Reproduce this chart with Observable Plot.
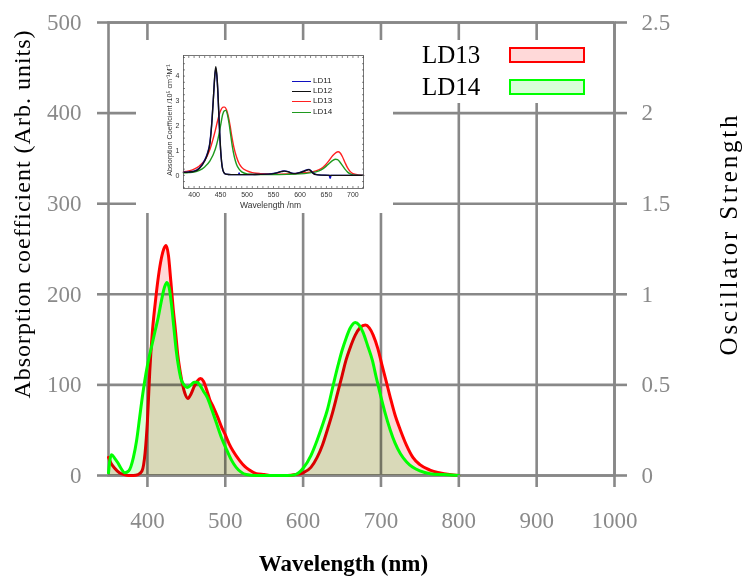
<!DOCTYPE html>
<html>
<head>
<meta charset="utf-8">
<script src="https://cdn.jsdelivr.net/npm/d3@7"></script>
<script src="https://cdn.jsdelivr.net/npm/@observablehq/plot@0.6"></script>
<style>
  body { margin: 0; background: #fff; }
  #wrap { position: relative; width: 743px; height: 577px; overflow: hidden; background: #fff; }
  #main { position: absolute; left: 0; top: 0; }
  #inset { position: absolute; left: 136px; top: 40px; width: 257px; height: 173px; background: #fff; }
  #legend { position: absolute; left: 380px; top: 40px; width: 225px; height: 63px; background: #fff;
            font-family: "Liberation Serif", "Times New Roman", serif; font-size: 25px; color: #000; }
  #legend .lab { position: absolute; left: 42px; line-height: 1; }
  #legend .sw { position: absolute; left: 129px; width: 72px; height: 12px; border-width: 2.5px; border-style: solid; }
  #insetLegend { position: absolute; left: 156px; top: 36px; font-family: "Liberation Sans", Arial, sans-serif; font-size: 8px; color: #222; }
  #insetLegend .row { position: absolute; left: 0; height: 10px; white-space: nowrap; }
  #insetLegend .ln { position: absolute; left: 0; top: 5px; width: 19px; height: 0; border-top: 1.5px solid; }
  #insetLegend .tx { position: absolute; left: 21px; top: 0; line-height: 10px; }
</style>
</head>
<body>
<div id="wrap">
  <div id="main"></div>
  <div id="inset"><div id="insetLegend"></div></div>
  <div id="legend"></div>
</div>
<script>
// ---------- Main chart data ----------
const seriesNames = ["LD13", "LD14"];
const seriesStroke = ["#ff0000", "#00ff00"];
const seriesSwatchFill = ["#ffd9d9", "#d9ffd9"];

const ld13Wavelength = [350,353,358,364,370,376,382,388,393,397,400,403,406,410,414,418,421,424,427,430,433,436,439,442,445,448,452,456,460,464,468,472,476,480,485,490,495,500,505,510,518,525,531,540,550,560,580,590,600,610,618,625,631,638,644,650,655,660,667,673,680,685,690,696,701,707,712,718,725,733,741,750,763,775,788,800];
const ld13Absorption = [20,14,8,3,1,0,0,1,5,25,60,115,155,190,219,240,250,254,243,215,185,160,133,115,101,91,85,90,98,104,107,104,95,84,75,65,54,45,35,27,17,10,6,2,1,0,0,1,3,9,20,34,50,70,90,110,127,140,155,163,166,163,155,140,123,103,86,67,50,33,20,12,6,3,1,0];

const ld14Wavelength = [350,352,354,358,362,366,371,376,382,386,390,394,398,402,405,410,414,418,422,425,428,431,434,437,440,443,447,451,456,460,464,468,472,477,483,489,495,502,508,514,520,527,540,580,590,600,610,618,625,631,639,645,650,655,660,667,672,677,683,689,694,699,705,712,718,725,733,741,750,763,780,800];
const ld14Absorption = [3,18,23,19,14,8,3,5,20,38,64,90,112,130,141,160,175,193,208,213,207,188,163,138,120,107,100,97,100,103,103,99,93,86,72,57,42,28,17,9,4,1,0,0,1,8,22,39,56,72,101,122,138,151,162,169,166,158,143,127,108,90,70,50,36,24,15,9,5,2,1,0];

const xTicks = [400, 500, 600, 700, 800, 900, 1000];
const yTicks = [0, 100, 200, 300, 400, 500];
const rightTickLabels = ["0", "0.5", "1", "1.5", "2", "2.5"];
const xTitle = "Wavelength (nm)";
const yTitle = "Absorption coefficient (Arb. units)";
const y2Title = "Oscillator Strength";

// ---------- Inset data ----------
const insetNames = ["LD11", "LD12", "LD13", "LD14"];
const insetColors = ["#1010c0", "#111111", "#ff2020", "#1f9a1f"];
const ld11Wl = [380,390,400,410,420,425,430,434,437,439,441,443,445,447,449,451,453,456,460,470,484,485,486,500,540,555,565,570,578,585,592,600,608,613,617,621,625,630,640,655,657,659,680,720];
const ld11Abs = [0.13,0.14,0.17,0.3,0.62,0.88,1.35,2.3,3.3,3.95,4.3,4.0,3.3,2.3,1.4,0.75,0.35,0.12,0.05,0.03,0.03,0.1,0.03,0.03,0.05,0.1,0.16,0.18,0.15,0.09,0.08,0.12,0.18,0.22,0.24,0.18,0.09,0.04,0.01,0,-0.12,0,0,0];
const ld12Wl = [380,390,400,410,420,425,430,434,437,439,441,443,445,447,449,451,453,456,460,470,500,540,555,565,570,578,585,592,600,608,613,617,621,625,630,640,680,720];
const ld12Abs = [0.12,0.13,0.16,0.28,0.58,0.84,1.3,2.25,3.3,4.0,4.38,4.05,3.35,2.35,1.45,0.78,0.36,0.12,0.05,0.03,0.03,0.05,0.09,0.15,0.17,0.14,0.08,0.07,0.11,0.17,0.21,0.23,0.17,0.08,0.03,0.01,0,0];
const ld13InsetWl = [380,390,400,410,420,430,440,445,450,455,458,461,465,468,471,475,480,485,490,500,510,525,550,575,600,615,630,640,648,655,662,668,672,676,680,685,690,695,700,710,720];
const ld13InsetAbs = [0.15,0.18,0.25,0.38,0.6,1.05,1.8,2.25,2.6,2.75,2.75,2.65,2.35,2.0,1.6,1.15,0.75,0.48,0.32,0.18,0.11,0.07,0.05,0.06,0.09,0.12,0.18,0.27,0.42,0.6,0.8,0.92,0.95,0.9,0.76,0.52,0.3,0.15,0.07,0.02,0];
const ld14InsetWl = [380,390,400,410,420,430,440,445,450,454,457,460,463,466,469,472,476,480,485,490,500,510,525,550,575,600,615,630,640,648,655,662,667,671,675,680,685,690,695,700,710,720];
const ld14InsetAbs = [0.1,0.11,0.13,0.2,0.34,0.58,1.05,1.45,2.0,2.45,2.6,2.62,2.45,2.1,1.65,1.2,0.75,0.45,0.25,0.14,0.06,0.04,0.03,0.03,0.04,0.06,0.09,0.14,0.22,0.34,0.48,0.6,0.65,0.63,0.55,0.4,0.25,0.13,0.06,0.02,0,0];
const insetXTicks = [400, 450, 500, 550, 600, 650, 700];
const insetYTicks = [0, 1, 2, 3, 4];
const insetXTitle = "Wavelength /nm";
const insetYTitle = "Absorption Coefficient /10\u2075 cm\u207B\u00B9M\u207B\u00B9";

// ---------- Build tables ----------
const ld13 = ld13Wavelength.map((w, i) => ({w, v: ld13Absorption[i]}));
const ld14 = ld14Wavelength.map((w, i) => ({w, v: ld14Absorption[i]}));

const gridStyle = {stroke: "#888", strokeOpacity: 1, strokeWidth: 2.6};
const tickFont = {fontSize: 23, fill: "#8a8a8a", color: "#8a8a8a", stroke: "#888", strokeWidth: 2.6, strokeOpacity: 1};

const main = Plot.plot({
  width: 743, height: 577,
  marginLeft: 108, marginRight: 129, marginTop: 22, marginBottom: 102,
  style: {background: "#fff", fontFamily: "'Liberation Serif', 'Times New Roman', serif", overflow: "visible"},
  x: {domain: [350, 1000]},
  y: {domain: [0, 500]},
  marks: [
    Plot.gridX({ticks: xTicks, ...gridStyle}),
    Plot.gridY({ticks: yTicks, ...gridStyle}),
    Plot.frame({stroke: "#888", strokeWidth: 2.6}),
    Plot.areaY(ld13, {x: "w", y: "v", fill: seriesStroke[0], fillOpacity: 0.15, curve: "monotone-x", mixBlendMode: "multiply"}),
    Plot.line(ld13, {x: "w", y: "v", stroke: seriesStroke[0], strokeWidth: 3, curve: "monotone-x"}),
    Plot.areaY(ld14, {x: "w", y: "v", fill: seriesStroke[1], fillOpacity: 0.15, curve: "monotone-x", mixBlendMode: "multiply"}),
    Plot.line(ld14, {x: "w", y: "v", stroke: seriesStroke[1], strokeWidth: 3, curve: "monotone-x"}),
    Plot.axisX({ticks: xTicks, tickSize: 12, tickPadding: 24, label: null, tickFormat: d => String(d), ...tickFont}),
    Plot.axisY({ticks: yTicks, anchor: "left", tickSize: 11, tickPadding: 16, label: null, tickFormat: d => String(d), ...tickFont}),
    Plot.axisY({ticks: yTicks, anchor: "right", tickSize: 12, tickPadding: 15, label: null,
      tickFormat: d => rightTickLabels[yTicks.indexOf(d)], ...tickFont}),
    Plot.text([yTitle], {frameAnchor: "left", dx: -86, dy: -35, rotate: -90, fontSize: 24, fill: "#000", textAnchor: "middle"}),
    Plot.text([y2Title], {frameAnchor: "right", dx: 114, dy: -15, rotate: -90, fontSize: 25, fill: "#000", textAnchor: "middle"}),
    Plot.text([xTitle], {frameAnchor: "bottom", dx: -18, dy: 88, fontSize: 23, fill: "#000", fontWeight: "bold", lineAnchor: "middle"})
  ]
});
// widen the serif axis titles a little (letter spacing) to match the original's wider typeface
d3.select(main).selectAll("text").each(function () {
  if (this.textContent === yTitle) this.setAttribute("letter-spacing", "1");
  if (this.textContent === y2Title) this.setAttribute("letter-spacing", "2.8");
});
document.getElementById("main").appendChild(main);

// ---------- Inset ----------
const insetSeries = [
  ld11Wl.map((w, i) => ({w, v: ld11Abs[i], s: insetNames[0]})),
  ld12Wl.map((w, i) => ({w, v: ld12Abs[i], s: insetNames[1]})),
  ld13InsetWl.map((w, i) => ({w, v: ld13InsetAbs[i], s: insetNames[2]})),
  ld14InsetWl.map((w, i) => ({w, v: ld14InsetAbs[i], s: insetNames[3]}))
];
const insetDrawOrder = [2, 3, 0, 1];
const insetFont = {fontSize: 7, fill: "#333", color: "#333", stroke: "#555", strokeWidth: 0.7};
const inset = Plot.plot({
  width: 257, height: 173,
  marginLeft: 47, marginRight: 30, marginTop: 15, marginBottom: 25,
  style: {background: "transparent", fontFamily: "'Liberation Sans', Arial, sans-serif", overflow: "visible"},
  x: {domain: [380, 720]},
  y: {domain: [-0.53, 4.83]},
  marks: [
    ...insetDrawOrder.map(k => Plot.line(insetSeries[k], {x: "w", y: "v", stroke: insetColors[k], strokeWidth: 1.4, curve: "monotone-x"})),
    Plot.frame({stroke: "#555", strokeWidth: 0.8}),
    Plot.axisX({ticks: insetXTicks, anchor: "bottom", tickSize: 0, tickPadding: 4, label: null, tickFormat: d => String(d), ...insetFont}),
    Plot.axisX({ticks: d3.range(380, 721, 10), anchor: "bottom", tickSize: -2, tickFormat: () => "", label: null, ...insetFont}),
    Plot.axisX({ticks: d3.range(380, 721, 10), anchor: "top", tickSize: -2, tickFormat: () => "", label: null, ...insetFont}),
    Plot.axisY({ticks: insetYTicks, anchor: "left", tickSize: 0, tickPadding: 4, label: null, tickFormat: d => String(d), ...insetFont}),
    Plot.axisY({ticks: d3.range(-0.5, 4.81, 0.25), anchor: "left", tickSize: -2, tickFormat: () => "", label: null, ...insetFont}),
    Plot.axisY({ticks: d3.range(-0.5, 4.81, 0.25), anchor: "right", tickSize: -2, tickFormat: () => "", label: null, ...insetFont}),
    Plot.text([insetYTitle], {frameAnchor: "left", dx: -14, dy: -2, rotate: -90, fontSize: 7.2, fill: "#333", textAnchor: "middle"}),
    Plot.text([insetXTitle], {frameAnchor: "bottom", dx: -3, dy: 17, fontSize: 8.5, fill: "#333", lineAnchor: "middle"})
  ]
});
document.getElementById("inset").insertBefore(inset, document.getElementById("insetLegend"));

// inset legend
const il = document.getElementById("insetLegend");
insetNames.forEach((n, i) => {
  const row = document.createElement("div");
  row.className = "row";
  row.style.top = (i * 10.2) + "px";
  row.innerHTML = `<div class="ln" style="border-color:${insetColors[i]}"></div><div class="tx">${n}</div>`;
  il.appendChild(row);
});

// main legend
const lg = document.getElementById("legend");
seriesNames.forEach((n, i) => {
  const lab = document.createElement("div");
  lab.className = "lab";
  lab.style.top = (2 + i * 31.5) + "px";
  lab.textContent = n;
  lg.appendChild(lab);
  const sw = document.createElement("div");
  sw.className = "sw";
  sw.style.top = (7 + i * 31.5) + "px";
  sw.style.borderColor = seriesStroke[i];
  sw.style.background = seriesSwatchFill[i];
  lg.appendChild(sw);
});
</script>
</body>
</html>
